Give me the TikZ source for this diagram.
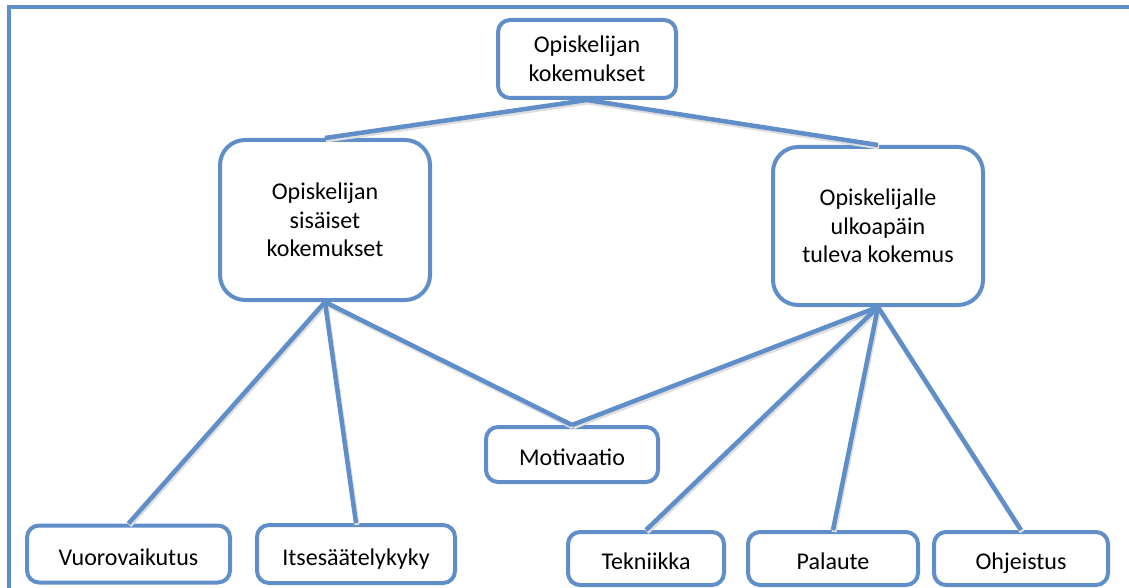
\documentclass[tikz,border=0pt]{standalone}
\usepackage{fontspec}
\setmainfont{Carlito}
\definecolor{lineblue}{RGB}{96,142,200}
\begin{document}
\begin{tikzpicture}[x=1pt,y=-1pt,
  box/.style={draw=lineblue,line width=4pt,fill=white,rounded corners=#1,align=center,
    inner sep=0pt,font=\fontsize{24}{28.5}\selectfont},
  box/.default=12pt,
  one/.style={text height=22pt,text depth=0pt},
  link/.style={draw=lineblue,line width=4.5pt},
  shade/.style={draw=black!13,line width=5pt}]
\useasboundingbox (0,0) rectangle (1129,588);
\clip (0,0) rectangle (1129,588);
\draw[lineblue,line width=4pt] (9,7) rectangle (1145,605);
\node[box,minimum width=178pt,minimum height=78pt] (top) at (587,59) {Opiskelijan\\kokemukset};
\node[box=25pt,minimum width=210pt,minimum height=160pt] (in) at (325,220) {Opiskelijan\\sisäiset\\kokemukset};
\node[box=25pt,minimum width=210pt,minimum height=158pt] (out) at (878,226) {Opiskelijalle\\ulkoapäin\\tuleva kokemus};
\node[box,one,minimum width=172pt,minimum height=55pt] (mot) at (572,454.5) {Motivaatio};
\node[box,one,minimum width=203pt,minimum height=57pt] (vuo) at (128.5,554) {Vuorovaikutus};
\node[box,one,minimum width=198pt,minimum height=58pt] (its) at (356,554) {Itsesäätelykyky};
\node[box,one,minimum width=156pt,minimum height=53pt] (tek) at (646,558.5) {Tekniikka};
\node[box,one,minimum width=170pt,minimum height=53pt] (pal) at (833,558.5) {Palaute};
\node[box,one,minimum width=174pt,minimum height=53pt] (ohj) at (1021,558.5) {Ohjeistus};
\foreach \a/\b in {top/in,top/out,in/vuo,in/its,in/mot,out/mot,out/tek,out/pal,out/ohj}{
  \draw[shade] ([shift={(1,2)}]\a.south) -- ([shift={(1,2)}]\b.north);
}
\foreach \a/\b in {top/in,top/out,in/vuo,in/its,in/mot,out/mot,out/tek,out/pal,out/ohj}{
  \draw[link] (\a.south) -- (\b.north);
}
\end{tikzpicture}
\end{document}
